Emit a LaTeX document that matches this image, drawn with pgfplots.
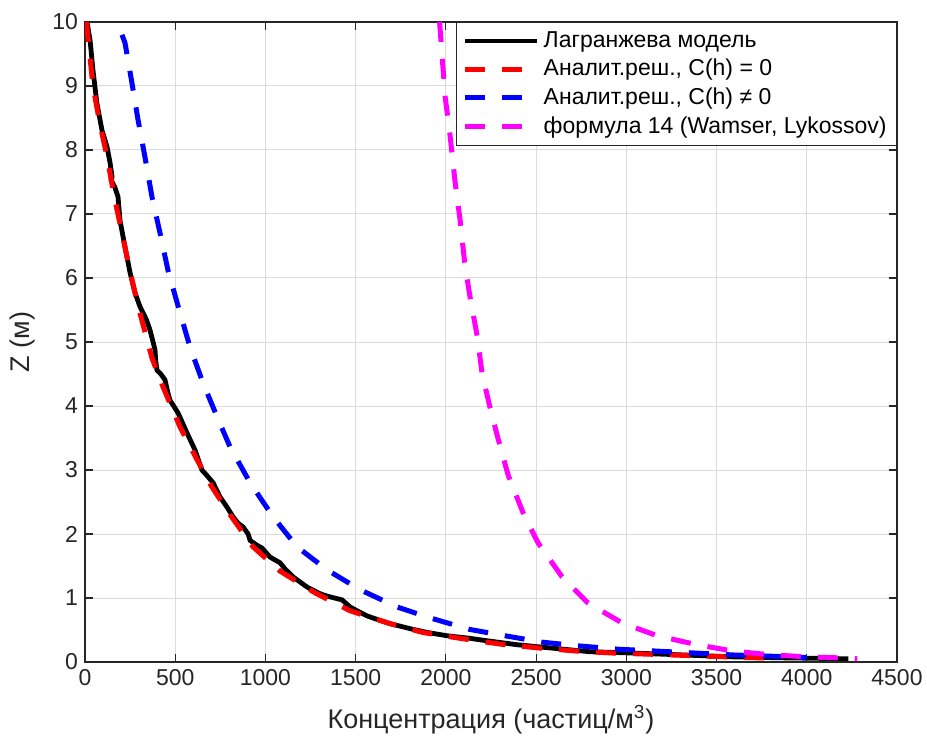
\documentclass[border=0pt]{standalone}
\usepackage{fontspec}
\setmainfont{Liberation Sans}
\usepackage{pgfplots}
\pgfplotsset{compat=1.18}
\definecolor{axgray}{rgb}{0.15,0.15,0.15}
\definecolor{gridgray}{rgb}{0.86,0.86,0.86}
\definecolor{mred}{rgb}{1,0,0}
\definecolor{mblue}{rgb}{0,0,1}
\definecolor{mmag}{rgb}{1,0,1}

\begin{document}
\begin{tikzpicture}
\begin{axis}[
  scale only axis, width=406pt, height=320pt,
  xmin=0, xmax=4500, ymin=0, ymax=10,
  xtick={0,500,...,4500}, ytick={0,1,...,10},
  grid=major, major grid style={gridgray, line width=0.5pt},
  axis line style={axgray, line width=0.6pt},
  tick style={axgray, line width=0.6pt}, tick align=inside, major tick length=4pt,
  /pgf/number format/assume math mode=true,
  /pgf/number format/1000 sep={},
  ticklabel style={font=\fontsize{11.5}{13}\selectfont, text=axgray},
  xlabel={Концентрация (частиц/м\textsuperscript{3})},
  ylabel={Z (м)},
  label style={font=\fontsize{13.5}{15}\selectfont, text=axgray},
  xlabel style={yshift=-3pt},
  ylabel style={yshift=2pt},
  legend style={at={(1,1)}, anchor=north east, draw=axgray, line width=0.5pt,
    font=\fontsize{11.5}{13}\selectfont, cells={anchor=west}, row sep=0.5pt,
    inner ysep=2.5pt},
  legend image code/.code={\draw[#1] (0pt,0pt) -- (36pt,0pt);},
]
\addplot[black, line width=2.4pt] coordinates {
(11,10.0) (20,9.85) (28,9.72) (44,9.25) (66,8.73) (94,8.31) (122,8.05) (139,7.8)
(150,7.58) (145,7.53) (165,7.42) (183,7.27) (194,6.9) (222,6.48) (250,6.08) (277,5.77)
(305,5.55) (340,5.35) (360,5.19) (388,4.88) (392,4.7) (399,4.56) (420,4.5) (443,4.41)
(460,4.2) (471,4.09) (516,3.89) (565,3.58) (610,3.31) (648,3.0) (680,2.9) (710,2.8)
(748,2.58) (787,2.42) (820,2.27) (848,2.17) (876,2.11) (904,2.0) (915,1.9) (950,1.83)
(981,1.78) (1025,1.64) (1081,1.55) (1110,1.45) (1153,1.33) (1231,1.17) (1300,1.07)
(1341,1.03) (1425,0.97) (1469,0.86) (1508,0.8) (1563,0.72) (1635,0.65) (1690,0.6)
(1818,0.51) (1900,0.46) (2007,0.41) (2134,0.37) (2206,0.34) (2394,0.27) (2577,0.22)
(2800,0.16) (3038,0.14) (3315,0.11) (3592,0.08) (3869,0.065) (4000,0.06) (4230,0.05)
};
\addlegendentry{Лагранжева модель}
\addplot[mred, line width=2.5pt, dash pattern=on 10pt off 8.5pt] coordinates {
(8,10.0) (15,9.8) (44,9.0) (83,8.4) (122,7.9) (160,7.3) (205,6.7) (250,6.1) (300,5.5)
(371,4.75) (432,4.3) (527,3.67) (621,3.16) (700,2.75) (804,2.3) (931,1.8) (1081,1.42)
(1275,1.08) (1469,0.8) (1690,0.6) (1874,0.46) (2079,0.37) (2300,0.28) (2511,0.22)
(2727,0.17) (2927,0.14) (3149,0.12) (3353,0.1) (3564,0.08) (3790,0.06)
};
\addlegendentry{Аналит.реш., C(h) = 0}
\addplot[mblue, line width=2.5pt, dash pattern=on 10pt off 8.5pt] coordinates {
(205,9.8) (222,9.67) (260,9.05) (294,8.47) (333,7.88) (371,7.27) (416,6.7) (460,6.12)
(520,5.52) (582,4.92) (654,4.36) (732,3.83) (804,3.36) (915,2.8) (1042,2.27) (1175,1.8)
(1341,1.44) (1524,1.13) (1729,0.86) (1912,0.69) (2130,0.51) (2328,0.41) (2533,0.31)
(2744,0.25) (2955,0.2) (3171,0.17) (3381,0.14) (3592,0.11) (3808,0.09) (4000,0.07)
};
\addlegendentry{Аналит.реш., C(h) ≠ 0}
\addplot[mmag, line width=2.5pt, dash pattern=on 10pt off 8.5pt] coordinates {
(1965,10.0) (1996,8.83) (2023,8.23) (2051,7.5) (2079,6.9) (2106,6.19) (2134,5.7)
(2173,5.1) (2201,4.5) (2245,3.97) (2290,3.48) (2345,2.92) (2428,2.33) (2511,1.86)
(2644,1.33) (2788,0.92) (2977,0.61) (3171,0.41) (3392,0.27) (3592,0.17) (3808,0.11)
(4008,0.08) (4230,0.06) (4280,0.05)
};
\addlegendentry{формула 14 (Wamser, Lykossov)}
\end{axis}
\pgfresetboundingbox
\path (current axis.south west) ++(-42.5pt,-41.5pt) rectangle ([shift={(421pt,331pt)}]current axis.south west);
\end{tikzpicture}
\end{document}
